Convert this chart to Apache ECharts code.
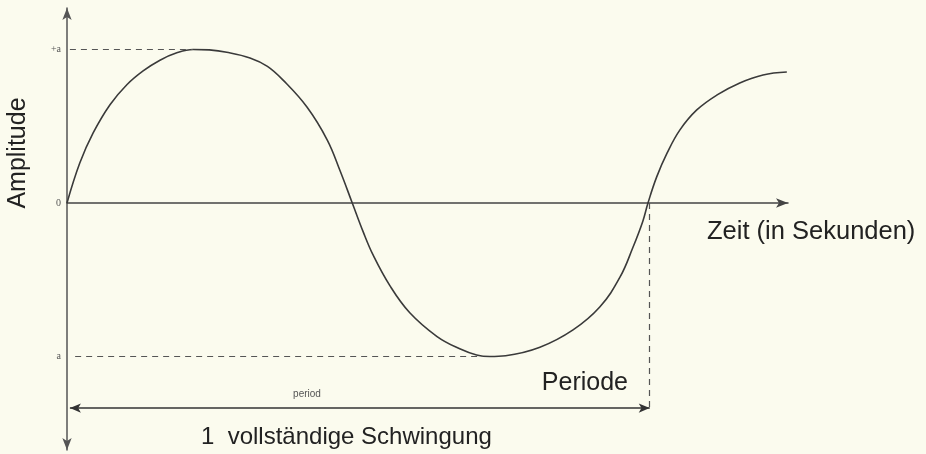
<!DOCTYPE html>
<html>
<head>
<meta charset="utf-8">
<script src="https://cdn.jsdelivr.net/npm/echarts@6/dist/echarts.min.js"></script>
<style>
  html, body { margin: 0; padding: 0; background: #fbfbee; }
  #chart { width: 926px; height: 454px; }
</style>
</head>
<body>
<div id="chart"></div>
<script>
// Time in periods (one full oscillation = 1) and amplitude in units of a
const timeValues = [0, 0.022, 0.045, 0.074, 0.103, 0.131, 0.160, 0.189, 0.217, 0.245, 0.275, 0.315,
  0.345, 0.372, 0.413, 0.448, 0.470, 0.491, 0.510, 0.527, 0.556, 0.590, 0.637, 0.676, 0.705,
  0.728, 0.755, 0.814, 0.871, 0.917, 0.952, 0.974, 0.991, 1.000, 1.015, 1.033, 1.055, 1.084,
  1.119, 1.158, 1.198, 1.239];
const amplitudeValues = [0, 0.26, 0.456, 0.64, 0.77, 0.86, 0.93, 0.978, 1.0, 0.997, 0.982, 0.945,
  0.89, 0.80, 0.625, 0.41, 0.21, 0, -0.19, -0.34, -0.54, -0.715, -0.87, -0.95, -0.99,
  -1.0, -0.995, -0.94, -0.827, -0.678, -0.482, -0.29, -0.12, 0, 0.17, 0.326, 0.476, 0.606,
  0.704, 0.782, 0.834, 0.853];

const amplitudeTicks = [1, 0, -1];
const amplitudeTickLabels = ['+a', '0', 'a'];

// Guide levels
const peakTime = 0.217;
const troughTime = 0.716;
const periodEnd = 1.003;
const periodBarLevel = -1.336;

const chart = echarts.init(document.getElementById('chart'));
const sans = '"Liberation Sans", Arial, Helvetica, sans-serif';
const ink = '#333';

chart.setOption({
  backgroundColor: '#fbfbee',
  animation: false,
  grid: { left: 67, right: 138, top: 8, bottom: 4 },
  xAxis: {
    type: 'value',
    min: 0,
    max: 1.241,
    axisLine: {
      onZero: true,
      symbol: ['none', 'arrow'],
      symbolSize: [7, 12],
      lineStyle: { color: '#444', width: 1.5 }
    },
    axisTick: { show: false },
    axisLabel: { show: false },
    splitLine: { show: false }
  },
  yAxis: {
    type: 'value',
    min: -1.609,
    max: 1.27,
    axisLine: {
      show: true,
      symbol: ['arrow', 'arrow'],
      symbolSize: [7, 12],
      lineStyle: { color: '#555', width: 1.5 }
    },
    axisTick: { show: false, customValues: amplitudeTicks },
    axisLabel: {
      show: true,
      customValues: amplitudeTicks,
      margin: 6,
      fontFamily: '"Liberation Serif", "DejaVu Serif", serif',
      fontSize: 10,
      color: '#555',
      formatter: function (v) {
        const i = amplitudeTicks.indexOf(v);
        return i >= 0 ? amplitudeTickLabels[i] : '';
      }
    },
    splitLine: { show: false }
  },
  series: [{
    type: 'line',
    data: timeValues.map((t, i) => [t, amplitudeValues[i]]),
    smooth: 0.4,
    showSymbol: false,
    lineStyle: { color: '#3a3a3a', width: 1.6 },
    markLine: {
      silent: true,
      symbol: 'none',
      label: { show: false },
      lineStyle: { color: '#555', width: 1.2, type: [6, 5] },
      data: [
        [{ coord: [0.005, 1] }, { coord: [peakTime, 1] }],
        [{ coord: [0.014, -1] }, { coord: [troughTime, -1] }],
        [{ coord: [periodEnd, 0] }, { coord: [periodEnd, periodBarLevel] }],
        [
          { coord: [0.005, periodBarLevel], symbol: 'arrow', symbolSize: [7, 11], symbolRotate: 90,
            lineStyle: { type: 'solid', color: ink, width: 1.5 } },
          { coord: [periodEnd, periodBarLevel], symbol: 'arrow', symbolSize: [7, 11], symbolRotate: -90 }
        ]
      ]
    }
  }],
  graphic: [
    { type: 'text', left: 707, top: 219,
      style: { text: 'Zeit (in Sekunden)', font: '25.5px ' + sans, fill: '#222' } },
    { type: 'text', x: 31, y: 153, rotation: Math.PI / 2,
      style: { text: 'Amplitude', font: '25px ' + sans, fill: '#222', align: 'center', verticalAlign: 'bottom' } },
    { type: 'text', x: 628, y: 383,
      style: { text: 'Periode', font: '25px ' + sans, fill: '#222', align: 'right', verticalAlign: 'middle' } },
    { type: 'text', x: 307, y: 394,
      style: { text: 'period', font: '10px ' + sans, fill: '#555', align: 'center', verticalAlign: 'middle' } },
    { type: 'text', x: 201, y: 437,
      style: { text: '1  vollständige Schwingung', font: '24px ' + sans, fill: '#222', align: 'left', verticalAlign: 'middle' } }
  ]
});
</script>
</body>
</html>
